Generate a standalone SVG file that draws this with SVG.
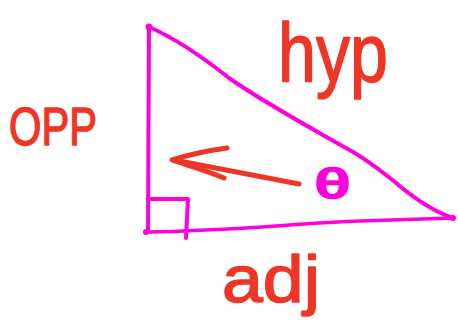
<svg xmlns="http://www.w3.org/2000/svg" width="458" height="335" viewBox="0 0 458 335">
<style>
.mag{fill:none;stroke:#ff00dc;stroke-linecap:round;stroke-linejoin:round}
.red{fill:none;stroke:#ee3626;stroke-linecap:round;stroke-linejoin:round}
.lbl{font-family:"Liberation Sans",Arial,sans-serif;fill:#ee3626;stroke:#ee3626;stroke-width:1.5;stroke-linejoin:round}
.th{font-family:"Liberation Sans",Arial,sans-serif;fill:#ff00dc;stroke:#ff00dc;stroke-width:2.5;stroke-linejoin:round}
</style>
<rect width="458" height="335" fill="#ffffff"/>
<g id="triangle">
<path class="mag" stroke-width="4" d="M149,26 L148,232"/>
<path class="mag" stroke-width="4" d="M149,27 C170,36 200,55 229,78 C260,100 300,122 346,148 C365,158 380,170 395,182 C410,195 430,210 453,218"/>
<path class="mag" stroke-width="3.5" d="M146,232 C230,231 300,223 360,221 L453,218"/>
<circle cx="149" cy="27" r="3.5" fill="#ff00dc"/>
<circle cx="146" cy="232" r="3" fill="#ff00dc"/>
<circle cx="453" cy="218" r="3" fill="#ff00dc"/>
</g>
<g id="right-angle">
<path class="mag" stroke-width="4" d="M148,199 L188,199 L186,238"/>
</g>
<g id="connectors">
<path class="red" stroke-width="5" d="M299,184 L174,160"/>
<path class="red" stroke-width="5" d="M227,148 C205,151 188,155 172,160 C190,166 208,171 224,178"/>
</g>
<g id="theta">
<text class="th" x="315" y="198" font-size="40" textLength="35" lengthAdjust="spacingAndGlyphs">θ</text>
</g>
<g id="opp">
<text class="lbl" x="9" y="145" font-size="54" textLength="88" lengthAdjust="spacingAndGlyphs">OPP</text>
</g>
<g id="hyp">
<text class="lbl" x="278" y="82" font-size="84" textLength="110" lengthAdjust="spacingAndGlyphs">hyp</text>
</g>
<g id="adj">
<text class="lbl" x="222" y="302" font-size="66" textLength="98" lengthAdjust="spacingAndGlyphs">adj</text>
</g>
</svg>
